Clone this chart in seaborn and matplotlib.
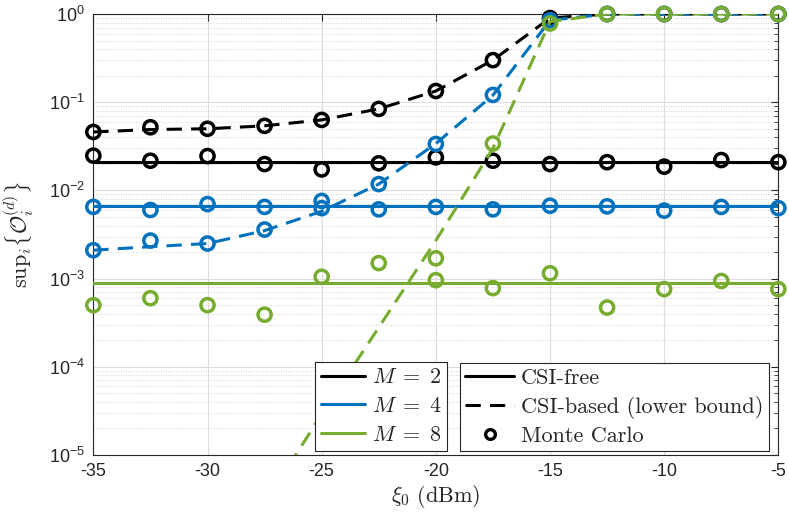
import numpy as np
import matplotlib
matplotlib.use("Agg")
import matplotlib.pyplot as plt
from matplotlib.ticker import FixedLocator, FuncFormatter, LogLocator, NullFormatter
from matplotlib.lines import Line2D
import seaborn as sns

# %% data
xi0 = [-35, -32.5, -30, -27.5, -25, -22.5, -20, -17.5, -15, -12.5, -10, -7.5, -5]

# M = 2
m2_free = [0.021, 0.021, 0.021, 0.021, 0.021, 0.021, 0.021, 0.021, 0.021, 0.021, 0.021, 0.021, 0.021]
m2_based = [0.046, 0.049, 0.050, 0.054, 0.063, 0.084, 0.134, 0.30, 0.90, 1.0, 1.0, 1.0, 1.0]
m2_mc_free = [0.0248, 0.0217, 0.0245, 0.0199, 0.0173, 0.0203, 0.0237, 0.0217, 0.0199, 0.0209, 0.0186, 0.0221, 0.0209]
m2_mc_based = [0.046, 0.052, 0.050, 0.054, 0.063, 0.084, 0.134, 0.30, 0.90, 1.0, 1.0, 1.0, 1.0]

# M = 4
m4_free = [0.0066, 0.0066, 0.0066, 0.0066, 0.0066, 0.0066, 0.0066, 0.0066, 0.0066, 0.0066, 0.0066, 0.0066, 0.0066]
m4_based = [0.0021, 0.0023, 0.0025, 0.0035, 0.0058, 0.0118, 0.034, 0.12, 0.85, 1.0, 1.0, 1.0, 1.0]
m4_mc_free = [0.0065, 0.0060, 0.0070, 0.0065, 0.0063, 0.0061, 0.0065, 0.0061, 0.0067, 0.0066, 0.0059, 0.0065, 0.0063]
m4_mc_based = [0.0021, 0.0027, 0.0025, 0.0036, 0.0076, 0.0118, 0.0336, 0.121, 0.85, 1.0, 1.0, 1.0, 1.0]

# M = 8
m8_free = [9e-4, 9e-4, 9e-4, 9e-4, 9e-4, 9e-4, 9e-4, 9e-4, 9e-4, 9e-4, 9e-4, 9e-4, 9e-4]
m8_based = [2.8e-9, 2.8e-8, 2.8e-7, 2.8e-6, 2.9e-5, 2.8e-4, 2.7e-3, 0.03, 0.82, 1.0, 1.0, 1.0, 1.0]
m8_mc_free = [5.0e-4, 6.0e-4, 5.0e-4, 3.9e-4, 1.05e-3, 1.5e-3, 9.6e-4, 7.8e-4, 1.15e-3, 4.7e-4, 7.6e-4, 9.4e-4, 7.6e-4]
m8_mc_based = [np.nan, np.nan, np.nan, np.nan, np.nan, np.nan, 1.7e-3, 0.034, 0.78, 1.0, 1.0, 1.0, 1.0]

M_labels = [r"$M\;=\;2$", r"$M\;=\;4$", r"$M\;=\;8$"]
colors = ["#000000", "#0072BD", "#77AC30"]

# %% style
sns.set_style("white")
plt.rcParams["font.family"] = ["Liberation Sans", "DejaVu Sans"]
plt.rcParams["mathtext.fontset"] = "cm"

fig = plt.figure(figsize=(7.89, 5.27), dpi=100)
ax = fig.add_axes([0.1183, 0.1366, 0.8682, 0.8368])

lw = 2.2
dash = (0, (5, 3))

series = [
    (m2_free, m2_based, m2_mc_free, m2_mc_based),
    (m4_free, m4_based, m4_mc_free, m4_mc_based),
    (m8_free, m8_based, m8_mc_free, m8_mc_based),
]

for k, (free, based, mc_free, mc_based) in enumerate(series):
    c = colors[k]
    z = 3 + k
    sns.lineplot(x=xi0, y=free, color=c, lw=lw, ax=ax, zorder=z)
    sns.lineplot(x=xi0, y=based, color=c, lw=lw, linestyle=dash, ax=ax, zorder=z)
    for mc in (mc_free, mc_based):
        sns.scatterplot(x=xi0, y=mc, marker="o", s=90, color=c, facecolor="none",
                        edgecolor=c, linewidth=2.5, ax=ax, zorder=z, clip_on=False)

ax.set_yscale("log")
ax.set_xlim(-35, -5)
ax.set_ylim(1e-5, 1)
ax.set_xticks([-35, -30, -25, -20, -15, -10, -5])
ax.xaxis.set_major_formatter(FuncFormatter(lambda v, p: "%d" % v))
ax.yaxis.set_major_locator(FixedLocator([1e-5, 1e-4, 1e-3, 1e-2, 1e-1, 1]))
ax.yaxis.set_major_formatter(FuncFormatter(
    lambda v, p: r"$\mathregular{10^{%d}}$" % round(np.log10(v))))
ax.yaxis.set_minor_locator(LogLocator(base=10, subs=np.arange(2, 10), numticks=20))
ax.yaxis.set_minor_formatter(NullFormatter())

ax.tick_params(which="both", direction="in", top=True, right=True,
               labelsize=13, color="#262626", labelcolor="#262626")
ax.tick_params(which="major", length=5, pad=6)
ax.tick_params(which="minor", length=3)

ax.grid(True, which="major", color="#dcdcdc", lw=0.8)
ax.grid(True, which="minor", axis="y", color="#c8c8c8", lw=0.6, linestyle=(0, (1, 2)))
ax.set_axisbelow(True)
for s in ax.spines.values():
    s.set_color("#262626")
    s.set_linewidth(0.8)

ax.set_xlabel(r"$\xi_0\ (\mathrm{dBm})$", fontsize=16, labelpad=2)
ax.set_ylabel(r"$\mathrm{sup}_i\{\mathcal{O}_i^{(d)}\}$", fontsize=16)
ax.yaxis.set_label_coords(-0.083, 0.5)

# %% legends
h1 = [Line2D([], [], color=c, lw=lw) for c in colors]
leg1 = ax.legend(h1, M_labels, loc="lower right", bbox_to_anchor=(0.517, 0.008),
                 fontsize=16, handlelength=2.0, handletextpad=0.3, labelspacing=0.35,
                 borderpad=0.25, borderaxespad=0, fancybox=False, framealpha=1,
                 edgecolor="#262626")
leg1.get_frame().set_linewidth(0.8)
ax.add_artist(leg1)

h2 = [Line2D([], [], color="k", lw=lw),
      Line2D([], [], color="k", lw=lw, linestyle=dash),
      Line2D([], [], color="k", lw=0, marker="o", mfc="none", mec="k", ms=7, mew=2.4)]
lab2 = ["CSI-free", "CSI-based (lower bound)", "Monte Carlo"]
leg2 = ax.legend(h2, lab2, loc="lower right", bbox_to_anchor=(0.986, 0.008),
                 handlelength=2.2, handletextpad=0.3, labelspacing=0.35,
                 borderpad=0.25, borderaxespad=0, fancybox=False, framealpha=1,
                 edgecolor="#262626", prop={"family": "cmr10", "size": 16})
leg2.get_frame().set_linewidth(0.8)

fig.savefig("out.png", dpi=100)
